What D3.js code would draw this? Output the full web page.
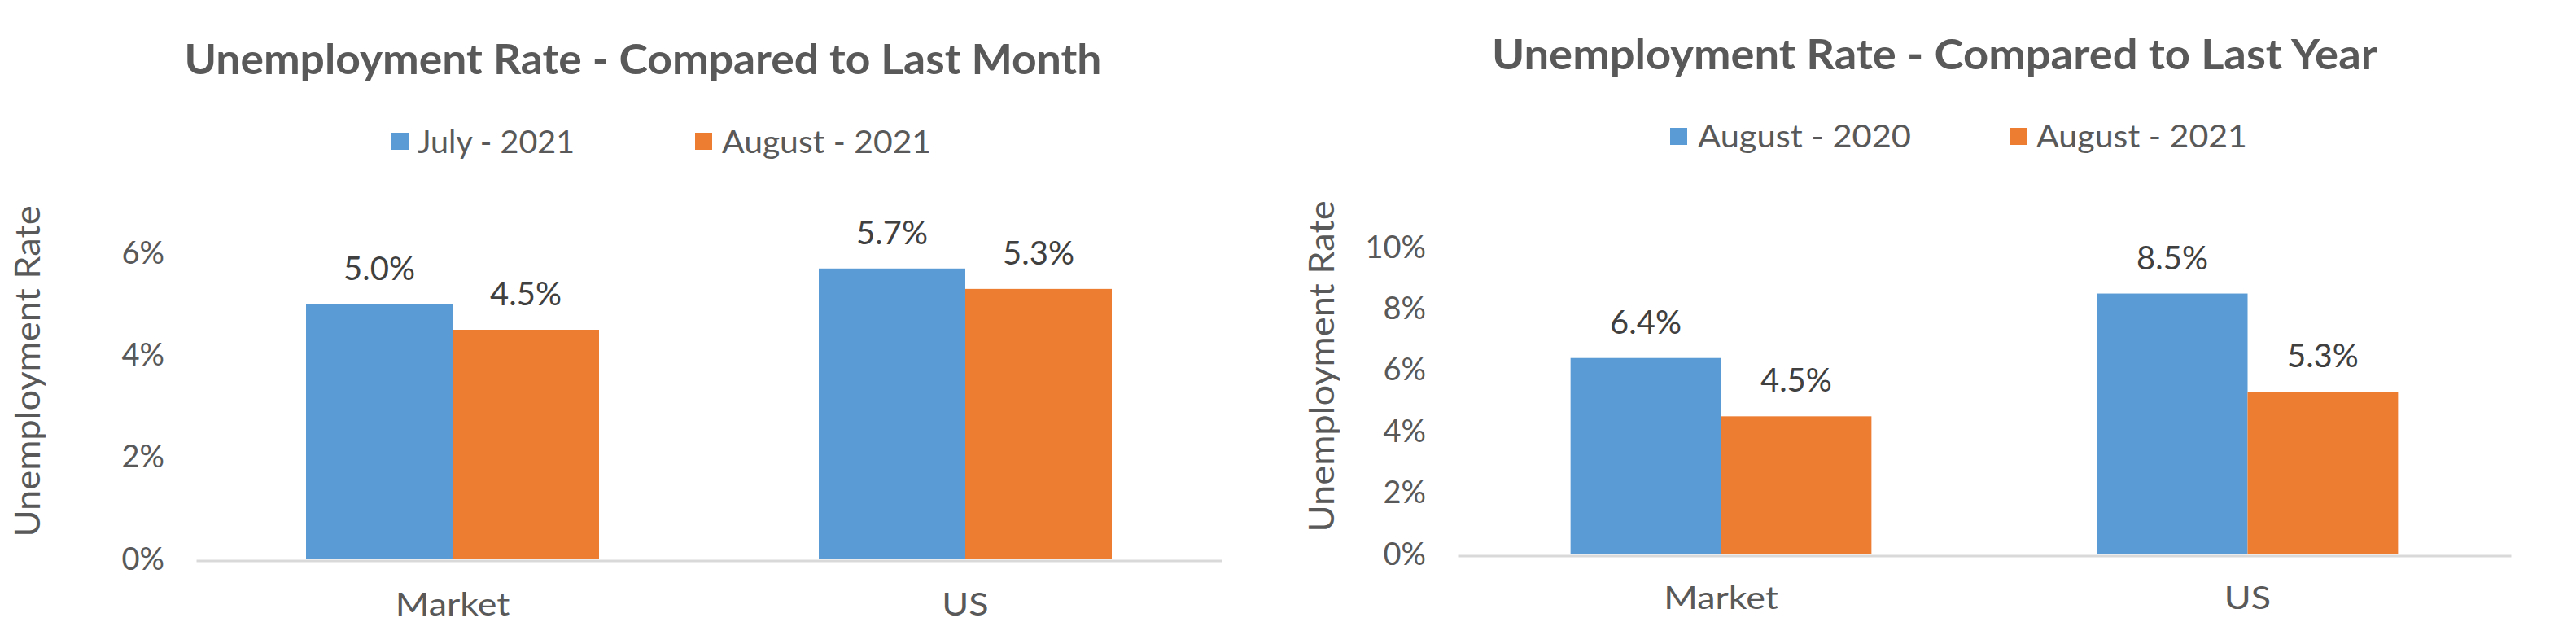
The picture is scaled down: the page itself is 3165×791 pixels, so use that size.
<!DOCTYPE html>
<html>
<head>
<meta charset="utf-8">
<script src="https://cdn.jsdelivr.net/npm/d3@7"></script>
<style>
  html, body { margin: 0; padding: 0; background: #ffffff; }
  svg { display: block; }
  text { font-family: Lato, "Open Sans", sans-serif; fill: #595959; }
</style>
</head>
<body>
<svg id="chart" width="3165" height="791"></svg>
<script>
// ---------- data ----------
const categories = ["Market", "US"];

const monthTitle = "Unemployment Rate - Compared to Last Month";
const monthSeries = ["July - 2021", "August - 2021"];
const monthJuly2021 = [5.0, 5.7];
const monthAug2021 = [4.5, 5.3];
const monthTicks = [0, 2, 4, 6];

const yearTitle = "Unemployment Rate - Compared to Last Year";
const yearSeries = ["August - 2020", "August - 2021"];
const yearAug2020 = [6.4, 8.5];
const yearAug2021 = [4.5, 5.3];
const yearTicks = [0, 2, 4, 6, 8, 10];

const axisTitle = "Unemployment Rate";
const colors = ["#5B9BD5", "#ED7D31"];

// ---------- drawing ----------
const svg = d3.select("#chart");

function stretch(sel, k) {
  sel.each(function () {
    const w = this.getComputedTextLength();
    d3.select(this).attr("textLength", w * k).attr("lengthAdjust", "spacingAndGlyphs");
  });
}

function drawChart(cfg) {
  const g = svg.append("g");
  const values = cfg.series;

  const x = d3.scaleBand().domain(categories).range(cfg.xRange).paddingInner(0).paddingOuter(0);
  const xs = d3.scaleBand().domain(cfg.seriesNames).range([0, x.bandwidth()]).paddingInner(0).paddingOuter(0.75);
  const y = d3.scaleLinear().domain(cfg.yDomain).range(cfg.yRange);

  // title
  g.append("text")
    .attr("x", cfg.titleX).attr("y", cfg.titleY)
    .attr("text-anchor", "middle")
    .attr("font-size", 51).attr("font-weight", 700)
    .attr("textLength", cfg.titleW).attr("lengthAdjust", "spacingAndGlyphs")
    .text(cfg.title);

  // legend
  cfg.seriesNames.forEach((s, i) => {
    g.append("rect")
      .attr("x", cfg.legend[i].sx).attr("y", cfg.legendSqY)
      .attr("width", 21).attr("height", 21)
      .attr("fill", colors[i]);
    g.append("text")
      .attr("x", cfg.legend[i].tx).attr("y", cfg.legendBase)
      .attr("font-size", 39)
      .attr("textLength", cfg.legend[i].tw).attr("lengthAdjust", "spacingAndGlyphs")
      .text(s);
  });

  // y axis title
  g.append("text")
    .attr("transform", `translate(${cfg.axTitleX},${cfg.axTitleY}) rotate(-90)`)
    .attr("text-anchor", "middle")
    .attr("font-size", 42)
    .attr("textLength", 407).attr("lengthAdjust", "spacingAndGlyphs")
    .text(axisTitle);

  // y tick labels
  const yAxis = d3.axisLeft(y).tickValues(cfg.ticks).tickSize(0).tickPadding(0)
    .tickFormat(d => d + "%");
  const ya = g.append("g").attr("transform", `translate(${cfg.yLabelRight},0)`).call(yAxis);
  ya.select(".domain").remove();
  ya.selectAll("text").attr("font-size", 38).attr("fill", "#595959")
    .style("font-family", "Lato, 'Open Sans', sans-serif");

  // bars
  cfg.seriesNames.forEach((s, i) => {
    g.selectAll(null).data(categories).enter().append("rect")
      .attr("x", c => x(c) + xs(s))
      .attr("y", (c, j) => y(values[i][j]))
      .attr("width", xs.bandwidth())
      .attr("height", (c, j) => y(0) - y(values[i][j]))
      .attr("fill", colors[i]);
    g.selectAll(null).data(categories).enter().append("text")
      .attr("x", c => x(c) + xs(s) + xs.bandwidth() / 2)
      .attr("y", (c, j) => y(values[i][j]) - 30)
      .attr("text-anchor", "middle")
      .attr("font-size", 40)
      .style("fill", "#404040")
      .text((c, j) => values[i][j].toFixed(1) + "%");
  });

  // x axis
  const xAxis = d3.axisBottom(x).tickSize(0).tickSizeOuter(0).tickPadding(0);
  const xa = g.append("g").attr("transform", `translate(0,${y(0) + 1.5})`).call(xAxis);
  xa.select(".domain").attr("stroke", "#D9D9D9").attr("stroke-width", 3);
  const xt = xa.selectAll("text").attr("font-size", 39).attr("fill", "#595959")
    .attr("dy", null).attr("y", cfg.catBaseOffset)
    .style("font-family", "Lato, 'Open Sans', sans-serif");
  stretch(xt, 1.15);
}

drawChart({
  title: monthTitle, titleX: 790, titleY: 91, titleW: 1127,
  seriesNames: monthSeries, series: [monthJuly2021, monthAug2021],
  xRange: [241, 1501], yDomain: [0, 6], yRange: [687, 311], ticks: monthTicks,
  legendSqY: 163, legendBase: 188,
  legend: [{sx: 481, tx: 513, tw: 193}, {sx: 854, tx: 887, tw: 257}],
  axTitleX: 49, axTitleY: 456, yLabelRight: 202, catBaseOffset: 67
});

drawChart({
  title: yearTitle, titleX: 2377, titleY: 85, titleW: 1088,
  seriesNames: yearSeries, series: [yearAug2020, yearAug2021],
  xRange: [1791, 3085], yDomain: [0, 10], yRange: [681, 304], ticks: yearTicks,
  legendSqY: 157, legendBase: 181,
  legend: [{sx: 2052, tx: 2086, tw: 262}, {sx: 2469, tx: 2502, tw: 259}],
  axTitleX: 1639, axTitleY: 450, yLabelRight: 1752, catBaseOffset: 65
});
</script>
</body>
</html>
